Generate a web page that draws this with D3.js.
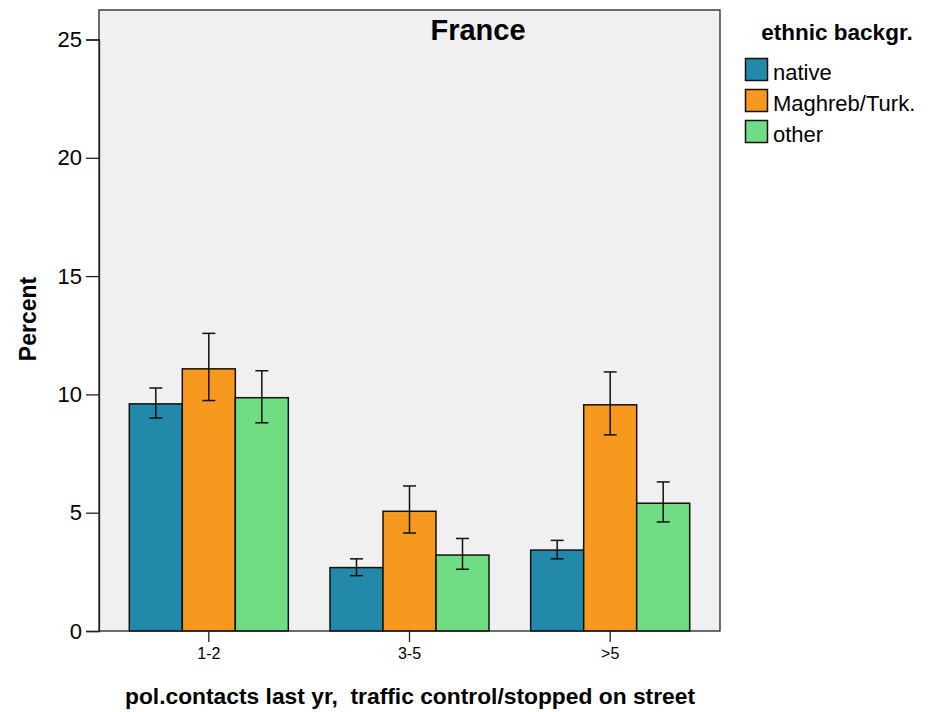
<!DOCTYPE html>
<html>
<head>
<meta charset="utf-8">
<script src="https://cdn.jsdelivr.net/npm/d3@7"></script>
<style>
  body { margin: 0; background: #ffffff; }
  svg text { font-family: "Liberation Sans", Arial, sans-serif; fill: #000; }
</style>
</head>
<body>
<svg id="chart" width="938" height="712"></svg>
<script>
// Police contacts in the last year (traffic control / stopped on street), France
const categories = ["1-2", "3-5", ">5"];
const groups = ["native", "Maghreb/Turk.", "other"];
const colors = ["#2389aa", "#f7991e", "#70dd85"];

// percent per group, one entry per category
const nativeValues  = [9.6, 2.68, 3.42];
const maghrebValues = [11.08, 5.06, 9.56];
const otherValues   = [9.86, 3.21, 5.40];

// 95% confidence interval bounds
const nativeLow   = [9.0, 2.34, 3.05];
const nativeHigh  = [10.27, 3.05, 3.83];
const maghrebLow  = [9.74, 4.14, 8.29];
const maghrebHigh = [12.58, 6.13, 10.95];
const otherLow    = [8.8, 2.61, 4.61];
const otherHigh   = [11.0, 3.91, 6.30];

const yTicks = [0, 5, 10, 15, 20, 25];

const seriesValues = [nativeValues, maghrebValues, otherValues];
const seriesLow = [nativeLow, maghrebLow, otherLow];
const seriesHigh = [nativeHigh, maghrebHigh, otherHigh];

const rows = [];
categories.forEach((c, i) => {
  groups.forEach((g, j) => {
    rows.push({ cat: c, group: g, gi: j, value: seriesValues[j][i], lo: seriesLow[j][i], hi: seriesHigh[j][i] });
  });
});

const svg = d3.select("#chart");
const plot = { left: 99, right: 720, top: 10, bottom: 631 };

const x = d3.scaleBand()
  .domain(categories)
  .range([plot.left, plot.right])
  .paddingInner(0.2076)
  .paddingOuter(0.151);

const xInner = d3.scaleBand()
  .domain(groups)
  .range([0, x.bandwidth()]);

const y = d3.scaleLinear()
  .domain([0, 25])
  .range([plot.bottom, 39.5]);

// plot background
svg.append("rect")
  .attr("x", plot.left).attr("y", plot.top)
  .attr("width", plot.right - plot.left).attr("height", plot.bottom - plot.top)
  .attr("fill", "#f0f0f0");

// bars
svg.append("g").selectAll("rect")
  .data(rows)
  .join("rect")
  .attr("x", d => x(d.cat) + xInner(d.group))
  .attr("y", d => y(d.value))
  .attr("width", xInner.bandwidth())
  .attr("height", d => y(0) - y(d.value))
  .attr("fill", d => colors[d.gi])
  .attr("stroke", "#111")
  .attr("stroke-width", 1.5);

// error bars
const cap = 6.5;
const eb = svg.append("g").attr("stroke", "#111").attr("stroke-width", 1.5);
rows.forEach(d => {
  const cx = x(d.cat) + xInner(d.group) + xInner.bandwidth() / 2;
  eb.append("line").attr("x1", cx).attr("x2", cx).attr("y1", y(d.lo)).attr("y2", y(d.hi));
  eb.append("line").attr("x1", cx - cap).attr("x2", cx + cap).attr("y1", y(d.lo)).attr("y2", y(d.lo));
  eb.append("line").attr("x1", cx - cap).attr("x2", cx + cap).attr("y1", y(d.hi)).attr("y2", y(d.hi));
});

// plot frame
svg.append("rect")
  .attr("x", plot.left).attr("y", plot.top)
  .attr("width", plot.right - plot.left).attr("height", plot.bottom - plot.top)
  .attr("fill", "none").attr("stroke", "#222").attr("stroke-width", 1.3);

// y axis
const yAxis = svg.append("g")
  .attr("transform", `translate(${plot.left},0)`)
  .call(d3.axisLeft(y).tickValues(yTicks).tickSize(13).tickPadding(4).tickFormat(d3.format("d")));
yAxis.select(".domain").attr("stroke", "#222").attr("stroke-width", 1.3);
yAxis.selectAll(".tick line").attr("stroke", "#222").attr("stroke-width", 1.3);
yAxis.selectAll(".tick text").attr("font-size", 22).attr("font-family", "Liberation Sans, Arial, sans-serif").attr("fill", "#000");

// x axis
const xAxis = svg.append("g")
  .attr("transform", `translate(0,${plot.bottom})`)
  .call(d3.axisBottom(x).tickSize(11).tickPadding(6));
xAxis.select(".domain").remove();
xAxis.selectAll(".tick line").attr("stroke", "#222").attr("stroke-width", 1.3);
xAxis.selectAll(".tick text").attr("font-size", 16).attr("font-family", "Liberation Sans, Arial, sans-serif").attr("fill", "#000");

// titles
svg.append("text")
  .attr("x", 478).attr("y", 40)
  .attr("text-anchor", "middle")
  .attr("font-size", 29).attr("font-weight", "bold")
  .text("France");

svg.append("text")
  .attr("transform", "translate(36,319) rotate(-90)")
  .attr("text-anchor", "middle")
  .attr("font-size", 23).attr("font-weight", "bold")
  .text("Percent");

svg.append("text")
  .attr("x", 410).attr("y", 704)
  .attr("text-anchor", "middle")
  .attr("font-size", 22.8).attr("font-weight", "bold")
  .text("pol.contacts last yr,  traffic control/stopped on street")
  .style("white-space", "pre");

// legend
const legend = svg.append("g");
legend.append("text")
  .attr("x", 837).attr("y", 40)
  .attr("text-anchor", "middle")
  .attr("font-size", 22.5).attr("font-weight", "bold")
  .text("ethnic backgr.");

groups.forEach((g, i) => {
  const yy = 58.5 + i * 31;
  legend.append("rect")
    .attr("x", 745.5).attr("y", yy)
    .attr("width", 22).attr("height", 22)
    .attr("fill", colors[i]).attr("stroke", "#111").attr("stroke-width", 1.5);
  legend.append("text")
    .attr("x", 773).attr("y", yy + 21)
    .attr("font-size", 22)
    .text(g);
});
</script>
</body>
</html>
